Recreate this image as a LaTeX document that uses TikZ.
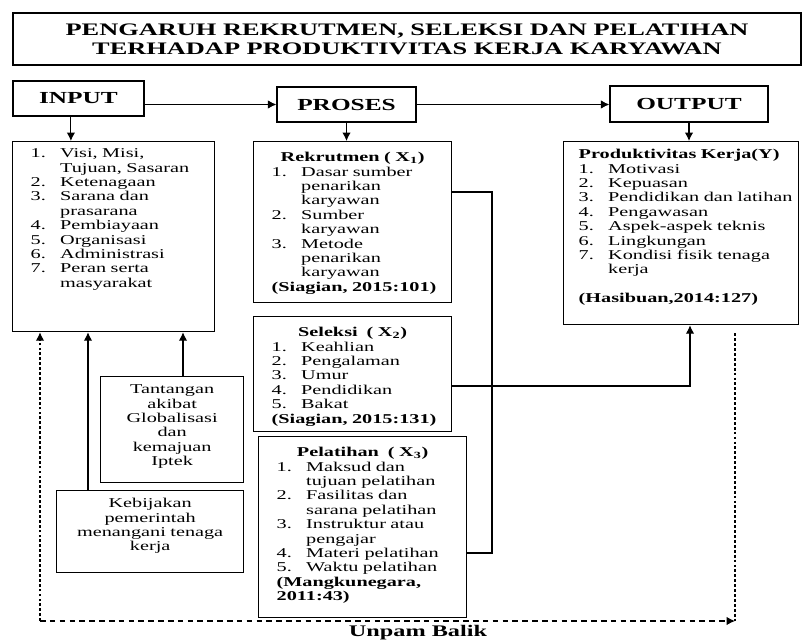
\documentclass[tikz,border=0pt]{standalone}
\usepackage{fontspec}
\setmainfont{Liberation Serif}[FakeStretch=1.5]
\usetikzlibrary{arrows.meta}
\newcommand{\nitem}[2]{\makebox[21pt][l]{#1}\mbox{#2}}
\newcommand{\ncont}[1]{\hspace*{21pt}\mbox{#1}}
\newcommand{\ntitle}[1]{\makebox[\linewidth]{\bfseries #1}}
\newcommand{\ncite}[1]{\mbox{\bfseries #1}}
\begin{document}
\begin{tikzpicture}[>={Latex[length=6pt,width=6pt]},
  head/.style={draw,line width=0.9pt,font=\fontsize{12}{13}\selectfont\bfseries},
  listbox/.style={draw,line width=0.9pt,anchor=north west,align=left,inner xsep=0.45cm,text height=7pt,font=\fontsize{9.6}{10.25}\selectfont},
  notebox/.style={draw,line width=0.9pt,anchor=north west,align=center,inner xsep=0.2cm,inner ysep=0.179cm,text height=7pt,font=\fontsize{9.6}{10.25}\selectfont},
  link/.style={line width=0.8pt},
  feedback/.style={line width=0.8pt,dash pattern=on 4pt off 3pt},
  feedvert/.style={line width=0.8pt,dash pattern=on 2pt off 1.5pt}]
  \useasboundingbox (0,0) rectangle (20.075,-16.025);
  \node[head,minimum width=19.7cm,minimum height=1.3cm,align=center,font=\fontsize{12.5}{13.5}\selectfont\bfseries] (title) at (10.175,-0.975) {PENGARUH REKRUTMEN, SELEKSI DAN PELATIHAN\\TERHADAP PRODUKTIVITAS KERJA KARYAWAN};
  \node[head,minimum width=3.275cm,minimum height=0.875cm] (input) at (1.9625,-2.4625) {INPUT};
  \node[head,minimum width=3.475cm,minimum height=0.875cm] (proses) at (8.6625,-2.6125) {PROSES};
  \node[head,minimum width=3.95cm,minimum height=0.9cm] (output) at (17.225,-2.6) {OUTPUT};
  \node[listbox,text width=4.15cm,inner ysep=0.155cm,text depth=4.194cm] (inlist) at (0.3,-3.525) {\nitem{1.}{Visi, Misi,}\\\ncont{Tujuan, Sasaran}\\\nitem{2.}{Ketenagaan}\\\nitem{3.}{Sarana dan}\\\ncont{prasarana}\\\nitem{4.}{Pembiayaan}\\\nitem{5.}{Organisasi}\\\nitem{6.}{Administrasi}\\\nitem{7.}{Peran serta}\\\ncont{masyarakat}};
  \node[listbox,text width=4.05cm,inner ysep=0.254cm,text depth=3.271cm] (rekrut) at (6.325,-3.525) {\ntitle{Rekrutmen ( X\textsubscript{1})}\\\nitem{1.}{Dasar sumber}\\\ncont{penarikan}\\\ncont{karyawan}\\\nitem{2.}{Sumber}\\\ncont{karyawan}\\\nitem{3.}{Metode}\\\ncont{penarikan}\\\ncont{karyawan}\\\ncite{(Siagian, 2015:101)}};
  \node[listbox,inner xsep=0.375cm,text width=5.125cm,inner ysep=0.179cm,text depth=3.971cm] (prod) at (14.075,-3.525) {\ncite{Produktivitas Kerja(Y)}\\\nitem{1.}{Motivasi}\\\nitem{2.}{Kepuasan}\\\nitem{3.}{Pendidikan dan latihan}\\\nitem{4.}{Pengawasan}\\\nitem{5.}{Aspek-aspek teknis}\\\nitem{6.}{Lingkungan}\\\nitem{7.}{Kondisi fisik tenaga}\\\ncont{kerja}\\[10.25pt]\ncite{(Hasibuan,2014:127)}};
  \node[listbox,text width=4.05cm,inner ysep=0.254cm,text depth=2.121cm] (seleksi) at (6.325,-7.9) {\ntitle{Seleksi\ \ ( X\textsubscript{2})}\\\nitem{1.}{Keahlian}\\\nitem{2.}{Pengalaman}\\\nitem{3.}{Umur}\\\nitem{4.}{Pendidikan}\\\nitem{5.}{Bakat}\\\ncite{(Siagian, 2015:131)}};
  \node[listbox,text width=4.3cm,inner ysep=0.254cm,text depth=3.771cm] (pelat) at (6.45,-10.9) {\ntitle{Pelatihan\ \ ( X\textsubscript{3})}\\\nitem{1.}{Maksud dan}\\\ncont{tujuan pelatihan}\\\nitem{2.}{Fasilitas dan}\\\ncont{sarana pelatihan}\\\nitem{3.}{Instruktur atau}\\\ncont{pengajar}\\\nitem{4.}{Materi pelatihan}\\\nitem{5.}{Waktu pelatihan}\\\ncite{(Mangkunegara,}\\\ncite{2011:43)}};
  \node[notebox,text width=3.175cm,text depth=2.046cm] (tantang) at (2.5,-9.4) {Tantangan\\akibat\\Globalisasi\\dan\\kemajuan\\Iptek};
  \node[notebox,text width=4.275cm,text depth=1.446cm] (kebij) at (1.4,-12.25) {Kebijakan\\pemerintah\\menangani tenaga\\kerja};
  \node[font=\fontsize{11.5}{12}\selectfont\bfseries] (balik) at (10.45,-15.825) {Unpam Balik};
  % top row
  \draw[link,->] (input.east |- proses.west) -- (proses.west);
  \draw[link,->] (proses.east) -- (proses.east -| output.west);
  \draw[link,->] ([xshift=-0.19cm]input.south) -- ([xshift=-0.19cm]input.south |- inlist.north);
  \draw[link,->] (proses.south) -- (proses.south |- rekrut.north);
  \draw[link,->] (output.south) -- (output.south |- prod.north);
  % outside factors
  \draw[link,->] ([xshift=0.8cm]kebij.north west) -- ([xshift=0.8cm]kebij.north west |- inlist.south);
  \draw[link,->] ([xshift=2.075cm]tantang.north west) -- ([xshift=2.075cm]tantang.north west |- inlist.south);
  % proses to output
  \coordinate (bendR) at (12.3,-4.8);
  \coordinate (bendP) at (12.3,-13.825);
  \coordinate (bendS) at (17.25,-9.65);
  \draw[link] (rekrut.east |- bendR) -- (bendR) -- (bendP) -- (pelat.east |- bendP);
  \draw[link,->] (seleksi.east |- bendS) -- (bendS) -- (bendS |- prod.south);
  % feedback
  \coordinate (fbL) at (1.0,-15.525);
  \coordinate (fbR) at (18.375,-15.525);
  \draw[feedback,->] (fbL) -- (fbR);
  \draw[feedvert] ([yshift=-0.2cm]prod.south -| fbR) -- (fbR);
  \draw[feedvert,->] (fbL) -- (fbL |- inlist.south);
\end{tikzpicture}
\end{document}
